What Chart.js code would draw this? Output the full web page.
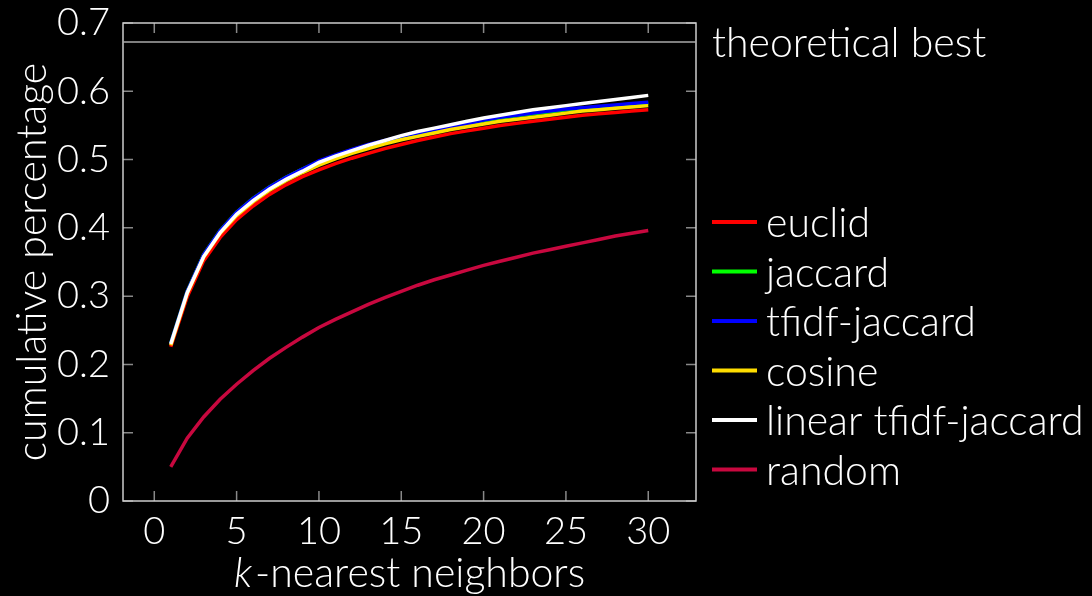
<!DOCTYPE html>
<html>
<head>
<meta charset="utf-8">
<script src="https://cdn.jsdelivr.net/npm/chart.js@4.4.1/dist/chart.umd.min.js"></script>
<style>
  html, body { margin: 0; padding: 0; background: #000; }
  #wrap { width: 1092px; height: 596px; }
</style>
</head>
<body>
<div id="wrap"><canvas id="myChart"></canvas></div>
<script>
const ks = [1, 2, 3, 4, 5, 6, 7, 8, 9, 10, 11, 12, 13, 14, 15, 16, 17, 18, 19, 20, 21, 22, 23, 24, 25, 26, 27, 28, 29, 30]

const euclid = [0.226, 0.299, 0.352, 0.386, 0.412, 0.432, 0.449, 0.463, 0.475, 0.485, 0.494, 0.502, 0.509, 0.516, 0.522,
  0.528, 0.533, 0.538, 0.542, 0.546, 0.550, 0.553, 0.556, 0.559, 0.562, 0.565, 0.567, 0.569, 0.571, 0.573]
const jaccard = [0.231, 0.307, 0.361, 0.396, 0.423, 0.443, 0.460, 0.474, 0.486, 0.497, 0.506, 0.514, 0.521, 0.527, 0.533,
  0.538, 0.543, 0.547, 0.551, 0.557, 0.561, 0.564, 0.567, 0.570, 0.573, 0.575, 0.577, 0.579, 0.581, 0.583]
const tfidfJaccard = [0.231, 0.307, 0.361, 0.396, 0.423, 0.443, 0.460, 0.474, 0.486, 0.498, 0.507, 0.515, 0.522, 0.528, 0.534,
  0.539, 0.544, 0.548, 0.552, 0.558, 0.562, 0.565, 0.568, 0.571, 0.574, 0.576, 0.578, 0.580, 0.582, 0.584]
const cosine = [0.228, 0.304, 0.357, 0.392, 0.418, 0.438, 0.455, 0.469, 0.481, 0.492, 0.501, 0.509, 0.516, 0.523, 0.529,
  0.534, 0.539, 0.544, 0.548, 0.552, 0.556, 0.559, 0.562, 0.565, 0.568, 0.571, 0.573, 0.575, 0.577, 0.579]
const linearTfidf = [0.230, 0.305, 0.358, 0.393, 0.420, 0.440, 0.457, 0.471, 0.483, 0.496, 0.505, 0.513, 0.521, 0.528, 0.535,
  0.541, 0.546, 0.551, 0.556, 0.561, 0.565, 0.569, 0.573, 0.576, 0.579, 0.582, 0.585, 0.588, 0.591, 0.594]
const random = [0.050, 0.092, 0.123, 0.149, 0.171, 0.191, 0.209, 0.225, 0.240, 0.254, 0.266, 0.277, 0.288, 0.298, 0.307,
  0.316, 0.324, 0.331, 0.338, 0.345, 0.351, 0.357, 0.363, 0.368, 0.373, 0.378, 0.383, 0.388, 0.392, 0.396]

const theoreticalBest = 0.672
const xRange = [-1.9, 32.9]
const yRange = [0, 0.7]

const FONT = 'Lato'
const TICK_SIZE = 38
const TEXT_SIZE = 41

function points (values) {
  return values.map((v, i) => ({ x: ks[i], y: v }))
}

// later series sit on top, like in the original plot
function series (label, values, color, idx) {
  return {
    label: label,
    data: points(values),
    borderColor: color,
    backgroundColor: color,
    borderWidth: 3.5,
    pointRadius: 0,
    tension: 0,
    order: 10 - idx
  }
}

const datasets = [
  series('euclid', euclid, '#ff0000', 0),
  series('jaccard', jaccard, '#00ff00', 1),
  series('tfidf-jaccard', tfidfJaccard, '#0000ff', 2),
  series('cosine', cosine, '#ffdd00', 3),
  series('linear tfidf-jaccard', linearTfidf, '#ffffff', 4),
  series('random', random, '#c8083f', 5),
  {
    label: 'theoretical best',
    data: [{ x: xRange[0], y: theoreticalBest }, { x: xRange[1], y: theoreticalBest }],
    borderColor: '#aaaaaa',
    borderWidth: 1.5,
    pointRadius: 0,
    order: 20,
    isBest: true
  }
]

// ticks inside the frame on all four sides, the frame, titles and legend
const framePlugin = {
  id: 'frame',
  beforeDatasetsDraw (chart) {
    const { ctx, chartArea: a, scales } = chart
    ctx.save()
    ctx.strokeStyle = '#888'
    ctx.lineWidth = 1.5
    ctx.beginPath()
    scales.x.ticks.forEach(t => {
      const px = scales.x.getPixelForValue(t.value)
      ctx.moveTo(px, a.bottom); ctx.lineTo(px, a.bottom - 10)
      ctx.moveTo(px, a.top); ctx.lineTo(px, a.top + 10)
    })
    scales.y.ticks.forEach(t => {
      const py = scales.y.getPixelForValue(t.value)
      ctx.moveTo(a.left, py); ctx.lineTo(a.left + 10, py)
      ctx.moveTo(a.right, py); ctx.lineTo(a.right - 10, py)
    })
    ctx.stroke()
    ctx.strokeStyle = '#cccccc'
    ctx.strokeRect(a.left, a.top, a.right - a.left, a.bottom - a.top)
    ctx.restore()
  },
  afterDraw (chart) {
    const { ctx, chartArea: a, scales } = chart
    ctx.save()
    ctx.fillStyle = '#ffffff'
    ctx.textBaseline = 'middle'
    ctx.font = '300 ' + TEXT_SIZE + 'px ' + FONT

    // axis titles
    const kPart = 'k'
    const rest = '-nearest neighbors'
    ctx.font = 'italic 300 ' + TEXT_SIZE + 'px ' + FONT
    const kw = ctx.measureText(kPart).width
    ctx.font = '300 ' + TEXT_SIZE + 'px ' + FONT
    const rw = ctx.measureText(rest).width
    let tx = (a.left + a.right) / 2 - (kw + rw + 3) / 2
    ctx.textAlign = 'left'
    ctx.font = 'italic 300 ' + TEXT_SIZE + 'px ' + FONT
    ctx.fillText(kPart, tx, 574)
    ctx.font = '300 ' + TEXT_SIZE + 'px ' + FONT
    ctx.fillText(rest, tx + kw + 3, 574)

    ctx.save()
    ctx.translate(33, (a.top + a.bottom) / 2)
    ctx.rotate(-Math.PI / 2)
    ctx.textAlign = 'center'
    ctx.fillText('cumulative percentage', 0, 0)
    ctx.restore()

    // label for the theoretical best line
    ctx.textAlign = 'left'
    ctx.fillText('theoretical best', a.right + 16, scales.y.getPixelForValue(theoreticalBest) + 2)

    // legend
    let y = 222
    chart.data.datasets.forEach(ds => {
      if (ds.isBest) return
      ctx.strokeStyle = ds.borderColor
      ctx.lineWidth = 4
      ctx.beginPath()
      ctx.moveTo(a.right + 16, y)
      ctx.lineTo(a.right + 61, y)
      ctx.stroke()
      ctx.fillText(ds.label, a.right + 70, y + 2)
      y += 49.5
    })
    ctx.restore()
  }
}

const config = {
  type: 'line',
  data: { datasets: datasets },
  plugins: [framePlugin],
  options: {
    responsive: true,
    maintainAspectRatio: false,
    animation: false,
    layout: { padding: { top: 23, right: 396, left: 0, bottom: 0 } },
    plugins: {
      legend: { display: false },
      tooltip: { enabled: false }
    },
    scales: {
      x: {
        type: 'linear',
        min: xRange[0],
        max: xRange[1],
        ticks: {
          stepSize: 5,
          includeBounds: false,
          color: '#ffffff',
          padding: 0,
          maxRotation: 0,
          font: { family: FONT, size: TICK_SIZE, weight: '300' }
        },
        grid: { display: false },
        border: { display: false },
        afterFit (s) { s.height = 95 }
      },
      y: {
        min: yRange[0],
        max: yRange[1],
        ticks: {
          stepSize: 0.1,
          color: '#ffffff',
          padding: 5,
          callback: v => String(+v.toFixed(1)),
          font: { family: FONT, size: TICK_SIZE, weight: '300', lineHeight: 0.5 }
        },
        grid: { display: false },
        border: { display: false },
        afterFit (s) { s.width = 123 }
      }
    }
  }
}

const chart = new Chart(document.getElementById('myChart'), config)
</script>
</body>
</html>
